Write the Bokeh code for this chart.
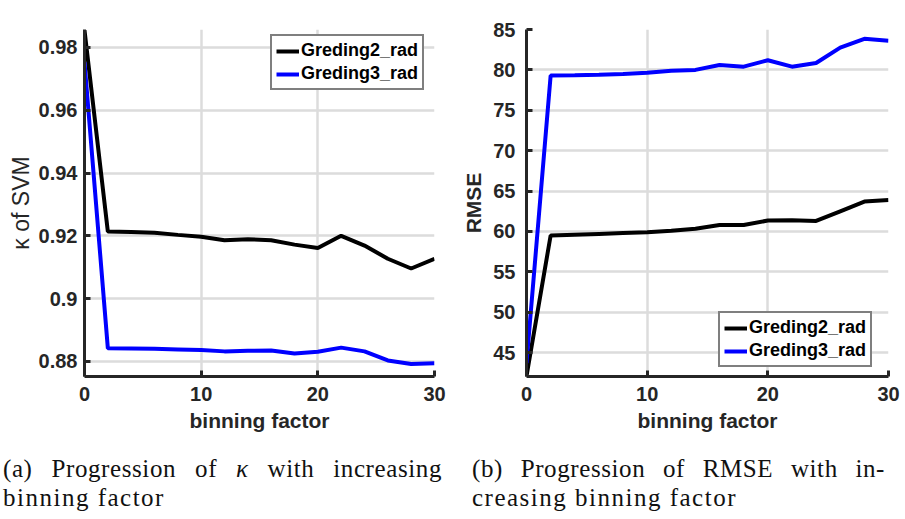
from bokeh.plotting import figure
from bokeh.layouts import column, row
from bokeh.models import (ColumnDataSource, FixedTicker, CustomJSTickFormatter,
                          Range1d, Div, Legend, LegendItem)
from bokeh.embed import file_html
from bokeh.resources import INLINE

# ---- data -------------------------------------------------------------
binning = [0, 2, 4, 6, 8, 10, 12, 14, 16, 18, 20, 22, 24, 26, 28, 30]

kappa_g2 = [0.9855, 0.9214, 0.9212, 0.9210, 0.9203, 0.9197, 0.9186, 0.9189,
            0.9186, 0.9172, 0.9161, 0.9200, 0.9169, 0.9127, 0.9096, 0.9127]
kappa_g3 = [0.9753, 0.8842, 0.8841, 0.8840, 0.8838, 0.8836, 0.8832, 0.8834,
            0.8835, 0.8825, 0.8831, 0.8844, 0.8832, 0.8803, 0.8792, 0.8794]

rmse_g2 = [42.1, 59.5, 59.6, 59.7, 59.8, 59.9, 60.1, 60.35,
           60.8, 60.8, 61.35, 61.4, 61.3, 62.5, 63.7, 63.9]
rmse_g3 = [43.7, 79.3, 79.33, 79.4, 79.5, 79.65, 79.9, 80.0,
           80.6, 80.4, 81.2, 80.4, 80.85, 82.75, 83.85, 83.6]

series_names = ["Greding2_rad", "Greding3_rad"]
series_colors = ["#000000", "#0000ff"]

x_ticks = [0, 10, 20, 30]
kappa_ticks = [0.88, 0.90, 0.92, 0.94, 0.96, 0.98]
rmse_ticks = [45, 50, 55, 60, 65, 70, 75, 80, 85]

captions = [
    ("(a) Progression of <i>&kappa;</i> with increasing", "binning factor"),
    ("(b) Progression of RMSE with in-", "creasing binning factor"),
]

AXIS_GRAY = "#262626"
TICK_FONT = "Liberation Sans"


def style_axes(p, y_label, y_bold, y_standoff, y_label_standoff, y_size):
    p.grid.grid_line_color = "#dcdcdc"
    p.grid.grid_line_width = 2.5
    p.xaxis.ticker = FixedTicker(ticks=x_ticks)
    for ax in (p.xaxis[0], p.yaxis[0]):
        ax.axis_line_color = AXIS_GRAY
        ax.axis_line_width = 3
        ax.major_tick_line_color = AXIS_GRAY
        ax.major_tick_line_width = 3
        ax.major_tick_in = 6
        ax.major_tick_out = 0
        ax.minor_tick_line_color = None
        ax.major_label_text_font = TICK_FONT
        ax.major_label_text_font_style = "bold"
        ax.major_label_text_font_size = "20px"
        ax.major_label_text_color = AXIS_GRAY
        ax.axis_label_text_font = TICK_FONT
        ax.axis_label_text_color = AXIS_GRAY
        ax.axis_label_text_font_size = "21px"
    p.xaxis.axis_label = "binning factor"
    p.xaxis.axis_label_text_font_style = "bold"
    p.xaxis.major_label_standoff = 10
    p.xaxis.axis_label_standoff = 5
    p.yaxis.axis_label = y_label
    p.yaxis.axis_label_text_font_style = "bold" if y_bold else "normal"
    p.yaxis.axis_label_text_font_size = y_size
    p.yaxis.major_label_standoff = y_standoff
    p.yaxis.axis_label_standoff = y_label_standoff
    p.outline_line_color = None
    p.background_fill_color = "white"
    p.border_fill_color = "white"


def add_series(p, ys_list, legend_xy):
    items = []
    for ys, name, color in zip(ys_list, series_names, series_colors):
        src = ColumnDataSource(dict(x=binning, y=ys))
        r = p.line("x", "y", source=src, line_color=color, line_width=4)
        items.append(LegendItem(label=name, renderers=[r]))
    leg = Legend(items=items, location=legend_xy, margin=0, padding=4,
                 spacing=2, glyph_width=23, glyph_height=20, label_height=20,
                 label_standoff=2, label_text_font=TICK_FONT,
                 label_text_font_style="bold", label_text_font_size="18px",
                 label_text_color="#000000", border_line_color="#000000",
                 border_line_width=2.5, background_fill_color="white",
                 background_fill_alpha=1.0)
    p.add_layout(leg, "center")


# ---- (a) kappa ----------------------------------------------------------
p1 = figure(width=450, height=445, output_backend="svg", toolbar_location=None,
            x_range=Range1d(0, 30), y_range=Range1d(0.8752, 0.9857),
            min_border_left=84, min_border_right=16, min_border_top=29,
            min_border_bottom=67)
style_axes(p1, "\u03ba of SVM", False, 7, 2, "23px")
p1.yaxis.ticker = FixedTicker(ticks=kappa_ticks)
p1.yaxis.formatter = CustomJSTickFormatter(
    code="return (Math.round(tick * 100) / 100).toString();")
add_series(p1, [kappa_g2, kappa_g3], (186, 286))

# ---- (b) RMSE -----------------------------------------------------------
p2 = figure(width=455, height=445, output_backend="svg", toolbar_location=None,
            x_range=Range1d(0, 30), y_range=Range1d(42.05, 85),
            min_border_left=76, min_border_right=17, min_border_top=12,
            min_border_bottom=69)
style_axes(p2, "RMSE", True, 11, 5, "21px")
p2.yaxis.ticker = FixedTicker(ticks=rmse_ticks)
add_series(p2, [rmse_g2, rmse_g3], (192, 9))

# ---- sub-figure captions -------------------------------------------------
CAP_STYLE = ("font-family:'Liberation Serif',serif;font-size:25px;"
             "line-height:29px;color:#111;letter-spacing:0.6px;")


def caption_div(lines, pad_left, text_width, width):
    first, second = lines
    html = (f'<div style="{CAP_STYLE}padding-top:9px;padding-left:{pad_left}px;'
            f'width:{text_width}px;">'
            f'<div style="text-align:justify;text-align-last:justify;">{first}</div>'
            f'<div style="letter-spacing:1.5px;">{second}</div></div>')
    return Div(text=html, width=width, height=74, margin=(0, 0, 0, 0))


d1 = caption_div(captions[0], 3, 442, 455)
d2 = caption_div(captions[1], 17, 430, 450)

layout = column(row(p1, p2), row(d1, d2))

open("out.html", "w").write(file_html(layout, INLINE))
